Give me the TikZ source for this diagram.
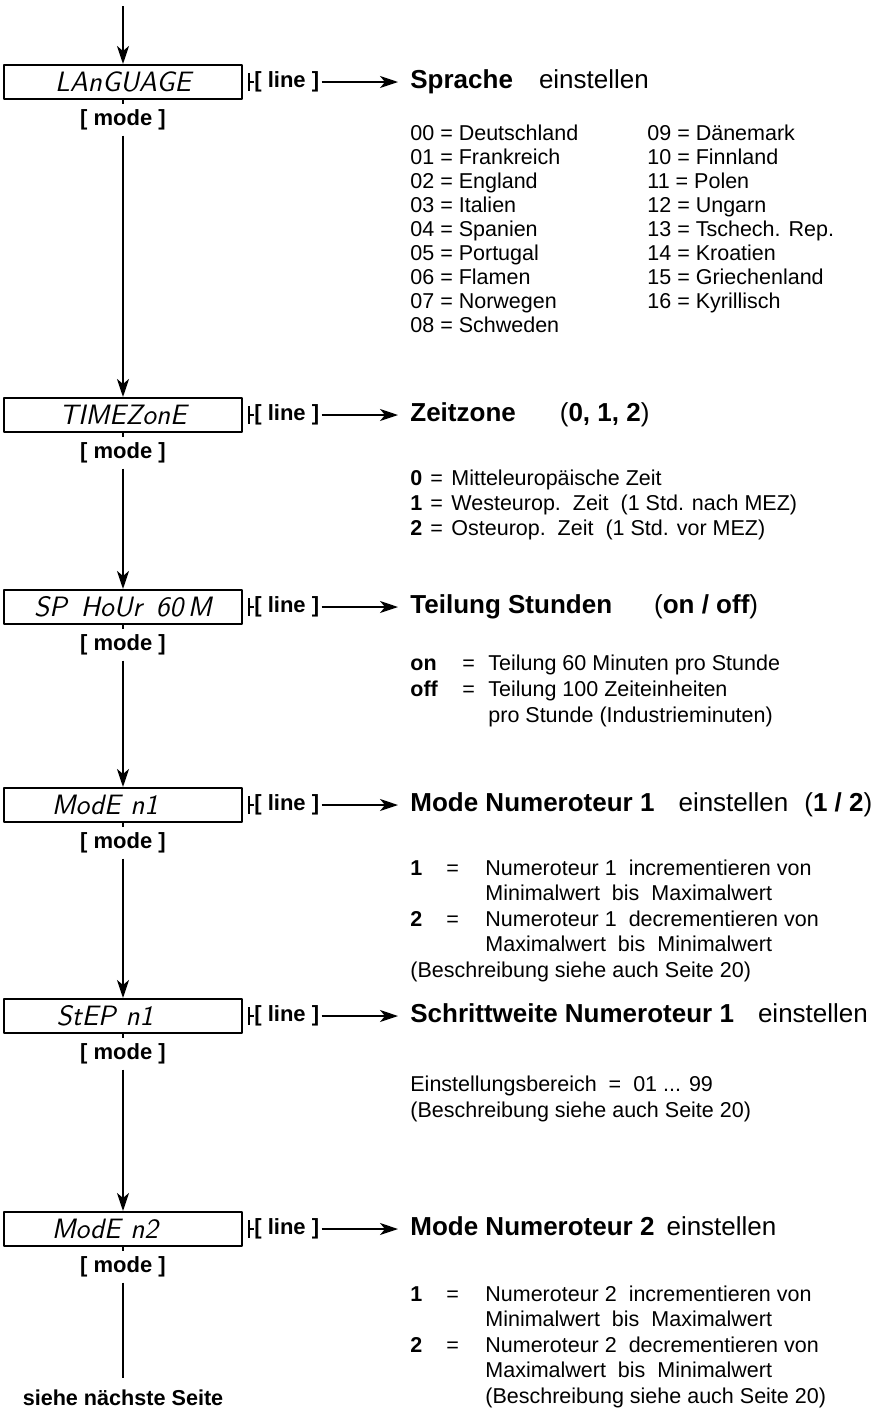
\documentclass[tikz,border=0pt]{standalone}
\usepackage{fontspec}
\setmainfont{Liberation Sans}
\usetikzlibrary{calc,arrows.meta,positioning}

\tikzset{
  lcd/.style={draw,line width=1pt,minimum width=119pt,minimum height=17pt,inner sep=0pt,
    font=\fontsize{14}{14}\selectfont\sffamily\itshape\addfontfeatures{LetterSpace=3}},
  key/.style={inner xsep=0pt,inner ysep=2.5pt,text height=8pt,text depth=2.2pt,
    font=\fontsize{11}{11}\selectfont\bfseries},
  ttl/.style={anchor=west,inner sep=0pt,text height=9.5pt,text depth=2.8pt,
    font=\fontsize{13}{15}\selectfont},
  desc/.style={anchor=base west,inner sep=0pt,font=\fontsize{10.75}{#1}\selectfont},
  flow/.style={line width=1.2pt},
  harrow/.style={->,line width=0.8pt,shorten >=6pt,shorten <=1pt},
}

\begin{document}
\begin{tikzpicture}[x=0.5pt,y=-0.5pt,>={Stealth[length=9pt,width=6pt,inset=2.5pt]},line join=round]
  \useasboundingbox (0,0) rectangle (892,1414);

  % displays
  \node[lcd] (b1) at (123,82) {LAnGUAGE};
  \node[lcd] (b2) at (123,415) {TIMEZonE};
  \node[lcd] (b3) at (123,607) {SP\hspace{7pt}HoUr\hspace{7pt}60\,M};
  \node[lcd] (b4) at (123,805) {ModE\hspace{5pt}n1\hspace*{18pt}};
  \node[lcd] (b5) at (123,1016) {StEP\hspace{5pt}n1\hspace*{18pt}};
  \node[lcd] (b6) at (123,1229) {ModE\hspace{5pt}n2\hspace*{18pt}};

  % mode keys
  \node[key] (m1) at (123,120) {[ mode ]};
  \node[key] (m2) at (123,453) {[ mode ]};
  \node[key] (m3) at (123,645) {[ mode ]};
  \node[key] (m4) at (123,843) {[ mode ]};
  \node[key] (m5) at (123,1054) {[ mode ]};
  \node[key] (m6) at (123,1267) {[ mode ]};
  \node[key,font=\fontsize{10.8}{10.8}\selectfont\bfseries] (next) at (123,1400) {siehe nächste Seite};

  \coordinate (top) at (123,6);
  \coordinate (end) at (123,1378);
  \draw[flow,->] (top) -- (b1.north);
  \draw[flow] (b1.south) -- (m1.north);
  \draw[flow,->] (m1.south) -- (b2.north);
  \draw[flow] (b2.south) -- (m2.north);
  \draw[flow,->] (m2.south) -- (b3.north);
  \draw[flow] (b3.south) -- (m3.north);
  \draw[flow,->] (m3.south) -- (b4.north);
  \draw[flow] (b4.south) -- (m4.north);
  \draw[flow,->] (m4.south) -- (b5.north);
  \draw[flow] (b5.south) -- (m5.north);
  \draw[flow,->] (m5.south) -- (b6.north);
  \draw[flow] (b6.south) -- (m6.north);
  \draw[flow] (m6.south) -- (end);

  % line keys
  \node[key,anchor=west] (l1) at (254,82) {[ line ]};
  \node[key,anchor=west] (l2) at (254,415) {[ line ]};
  \node[key,anchor=west] (l3) at (254,607) {[ line ]};
  \node[key,anchor=west] (l4) at (254,805) {[ line ]};
  \node[key,anchor=west] (l5) at (254,1016) {[ line ]};
  \node[key,anchor=west] (l6) at (254,1229) {[ line ]};
  \foreach \i in {1,...,6}{
    \draw[line width=0.8pt] ($(b\i.east)+(6,-9)$) -- ++(0,18);
    \draw[line width=0.8pt] ($(b\i.east)+(6,0)$) -- (l\i.west);
  }

  % titles
  \node[ttl] (t1) at (410,82) {\textbf{Sprache}\hspace{13pt}einstellen};
  \node[ttl] (t2) at (410,415) {\textbf{Zeitzone}\hspace{22pt}(\textbf{0, 1, 2})};
  \node[ttl] (t3) at (410,607) {\textbf{Teilung Stunden}\hspace{21pt}(\textbf{on / off})};
  \node[ttl] (t4) at (410,805) {\textbf{Mode Numeroteur 1}\hspace{12pt}einstellen\hspace{8pt}(\textbf{1 / 2})};
  \node[ttl] (t5) at (410,1016) {\textbf{Schrittweite Numeroteur 1}\hspace{12pt}einstellen};
  \node[ttl] (t6) at (410,1229) {\textbf{Mode Numeroteur 2}\hspace{6pt}einstellen};
  \foreach \i in {1,...,6}
    \draw[harrow] (l\i.east) -- (t\i.west);

  % descriptions
  \node[desc=12pt] (d1) at (410,140) {\begin{tabular}[t]{@{}p{118.5pt}@{}l@{}}
    00 = Deutschland & 09 = Dänemark\\
    01 = Frankreich & 10 = Finnland\\
    02 = England & 11 = Polen\\
    03 = Italien & 12 = Ungarn\\
    04 = Spanien & 13 = Tschech. Rep.\\
    05 = Portugal & 14 = Kroatien\\
    06 = Flamen & 15 = Griechenland\\
    07 = Norwegen & 16 = Kyrillisch\\
    08 = Schweden &
  \end{tabular}};
  \node[desc=12.5pt] (d2) at (410,485) {\begin{tabular}[t]{@{}p{10pt}@{}p{10.5pt}@{}l@{}}
    \textbf{0} & = & Mitteleuropäische Zeit\\
    \textbf{1} & = & Westeurop.\ \ Zeit\ \ (1 Std. nach MEZ)\\
    \textbf{2} & = & Osteurop.\ \ Zeit\ \ (1 Std. vor MEZ)
  \end{tabular}};
  \node[desc=13pt] (d3) at (410,670) {\begin{tabular}[t]{@{}p{26pt}@{}p{13pt}@{}l@{}}
    \textbf{on} & = & Teilung 60 Minuten pro Stunde\\
    \textbf{off} & = & Teilung 100 Zeiteinheiten\\
    & & pro Stunde (Industrieminuten)
  \end{tabular}};
  \node[desc=12.75pt] (d4) at (410,875) {\begin{tabular}[t]{@{}p{18pt}@{}p{19.5pt}@{}l@{}}
    \textbf{1} & = & Numeroteur 1\ \ incrementieren von\\
    & & Minimalwert\ \ bis\ \ Maximalwert\\
    \textbf{2} & = & Numeroteur 1\ \ decrementieren von\\
    & & Maximalwert\ \ bis\ \ Minimalwert\\
    \multicolumn{3}{@{}l@{}}{(Beschreibung siehe auch Seite 20)}
  \end{tabular}};
  \node[desc=13pt] (d5) at (410,1091) {\begin{tabular}[t]{@{}l@{}}
    Einstellungsbereich\ \ =\ \ 01 ... 99\\
    (Beschreibung siehe auch Seite 20)
  \end{tabular}};
  \node[desc=12.75pt] (d6) at (410,1301) {\begin{tabular}[t]{@{}p{18pt}@{}p{19.5pt}@{}l@{}}
    \textbf{1} & = & Numeroteur 2\ \ incrementieren von\\
    & & Minimalwert\ \ bis\ \ Maximalwert\\
    \textbf{2} & = & Numeroteur 2\ \ decrementieren von\\
    & & Maximalwert\ \ bis\ \ Minimalwert\\
    & & (Beschreibung siehe auch Seite 20)
  \end{tabular}};
\end{tikzpicture}
\end{document}
